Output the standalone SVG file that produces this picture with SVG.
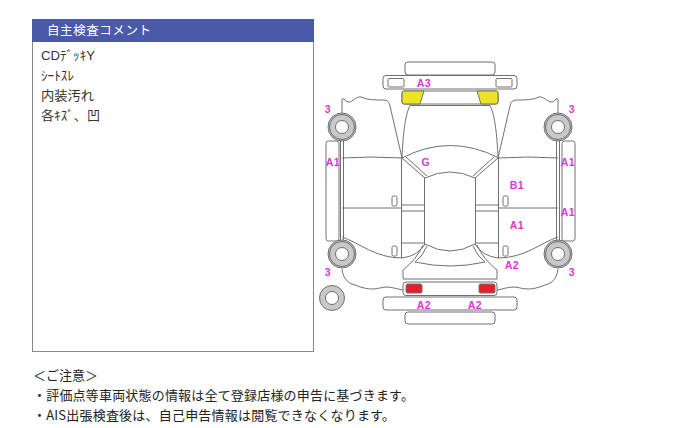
<svg xmlns="http://www.w3.org/2000/svg" width="678" height="428" viewBox="0 0 678 428">
<style>
text{font-family:"Noto Sans CJK JP","Liberation Sans",sans-serif;fill:#333}
.l{fill:none;stroke:#707070;stroke-width:1}
.p{fill:#fff;stroke:#707070;stroke-width:1}
.m{font-family:"Liberation Sans",sans-serif;font-size:10.5px;font-weight:bold;fill:#d838d8;text-anchor:middle;letter-spacing:.6px}
.w{fill:#c8c8c8;stroke:#707070;stroke-width:1}
.h{fill:#fff;stroke:#707070;stroke-width:1}
.c{font-family:"Liberation Sans","Noto Sans CJK JP",sans-serif;font-size:13px}
.n{font-size:13px;fill:#222}
</style>
<defs>
<g id="wheel"><circle class="w" r="14"/><circle class="l" r="12.5"/><circle class="h" r="6.500"/></g>
</defs>
<g id="comment-box">
<rect x="32.500" y="19.500" width="281" height="332" fill="#fff" stroke="#888"/>
<rect x="32" y="19" width="282" height="23" fill="#4a5aa8"/>
<text x="47" y="35" font-size="12.5" style="fill:#fff" textLength="104">自主検査コメント</text>
<text class="c" x="41" y="60" textLength="54" lengthAdjust="spacingAndGlyphs">CDﾃﾞｯｷY</text>
<text class="c" x="41" y="80" textLength="33" lengthAdjust="spacingAndGlyphs">ｼｰﾄｽﾚ</text>
<text class="c" x="41" y="100" textLength="53" lengthAdjust="spacingAndGlyphs">内装汚れ</text>
<text class="c" x="41" y="120" textLength="59" lengthAdjust="spacingAndGlyphs">各ｷｽﾞ、凹</text>
</g>
<g id="car">
<g id="front-bumper">
<rect class="p" x="405" y="62" width="90" height="13" rx="3"/>
<rect class="p" x="383" y="75.500" width="134" height="13.500" rx="3"/>
<rect class="p" x="388" y="78.500" width="16" height="8.500" rx="1"/>
<rect class="p" x="496" y="78.500" width="16" height="8.500" rx="1"/>
</g>
<g id="windscreen-washer">
<rect class="p" x="402" y="91" width="96" height="13" rx="2"/>
<path d="M403.500 91H424L420 104H404Q402 104 402 102V93Q402 91 403.500 91Z" fill="#ece325" stroke="#707070"/>
<path d="M496.500 91H477L481 104H496Q498 104 498 102V93Q498 91 496.500 91Z" fill="#ece325" stroke="#707070"/>
</g>
<g id="body-lines">
<path class="l" d="M410 105.500H490M410 105.500C405 115 403 135 402 158M490 105.500C495 115 497 135 498 158"/>
<path class="l" d="M342 113V100Q342 98 344 99Q347 103 350 102C354 100 358 96 361 97C367 100 375 100 384 100Q389 100 390 106L402 158"/>
<path class="l" d="M558 113V100Q558 98 556 99Q553 103 550 102C546 100 542 96 539 97C533 100 525 100 516 100Q511 100 510 106L498 158"/>
<path class="l" d="M402 158Q450 133 499 158M425 178Q450 166 475 178"/>
<path class="l" d="M402 158L425 178M406 157L427 176M498 158L475 178M494 157L473 176"/>
<path class="l" d="M401.500 158V258M498.500 158V258M424.500 178V245M475.500 178V245"/>
<path class="l" d="M342 158Q370 156 402 158M558 158Q530 156 498 158M342 208H402M558 208H498"/>
<path class="l" d="M402 205H424M402 211H424M402 243H424M476 205H498M476 211H498M476 243H498"/>
<path class="l" d="M342 237C360 243 375 258 402 258Q418 256 425 244M558 237C540 243 525 258 498 258Q482 256 475 244"/>
<path class="l" d="M425 244Q450 258 475 244"/>
<path class="l" d="M423 245Q417 259 403 270V279H497V270Q483 259 477 245"/>
<path class="l" d="M427 246Q423 256 415 262Q450 270 485 262Q477 256 473 246"/>
<path class="l" d="M342 269C343 280 350 284 355 285C362 288 368 289 372 289C378 289 382 287 386 287C392 287 397 289 403 290M558 269C557 280 550 284 545 285C538 288 532 289 528 289C522 289 518 287 514 287C508 287 503 289 497 290"/>
<path class="l" d="M340.500 141V240M343.500 141V240M556.500 141V240M559.500 141V240"/>
</g>
<g id="sills">
<rect class="p" x="326" y="141" width="13" height="100" rx="2.500"/>
<rect class="p" x="562" y="141" width="13" height="100" rx="2.500"/>
</g>
<g id="door-handles">
<rect class="p" x="392" y="196" width="5" height="10" rx="1.500"/>
<rect class="p" x="392" y="246" width="5" height="10" rx="1.500"/>
<rect class="p" x="503" y="196" width="5" height="10" rx="1.500"/>
<rect class="p" x="503" y="246" width="5" height="10" rx="1.500"/>
</g>
<g id="wheels">
<use href="#wheel" x="342" y="127"/>
<use href="#wheel" x="558" y="127"/>
<use href="#wheel" x="342" y="254"/>
<use href="#wheel" x="558" y="254"/>
<circle class="w" cx="332" cy="298" r="12.500"/>
<circle class="h" cx="332" cy="298" r="6.500"/>
</g>
<g id="rear">
<rect class="p" x="403" y="282" width="94" height="13.500" rx="3"/>
<rect x="406" y="284" width="16" height="9" rx="1.500" fill="#e2202c" stroke="#707070"/>
<rect x="479" y="284" width="16" height="9" rx="1.500" fill="#e2202c" stroke="#707070"/>
<rect class="p" x="383" y="297" width="134" height="13" rx="3"/>
<rect class="p" x="405" y="312" width="90" height="12" rx="3"/>
</g>
</g>
<g id="labels">
<text class="m" x="424" y="87">A3</text>
<text class="m" x="328" y="113">3</text>
<text class="m" x="572" y="113">3</text>
<text class="m" x="333" y="166">A1</text>
<text class="m" x="568" y="166">A1</text>
<text class="m" x="426" y="166">G</text>
<text class="m" x="517" y="189">B1</text>
<text class="m" x="568" y="216">A1</text>
<text class="m" x="517" y="229">A1</text>
<text class="m" x="512" y="269">A2</text>
<text class="m" x="328" y="276">3</text>
<text class="m" x="572" y="276">3</text>
<text class="m" x="424" y="309">A2</text>
<text class="m" x="475" y="309">A2</text>
</g>
<g id="notes">
<text class="n" x="33" y="380" textLength="65">＜ご注意＞</text>
<text class="n" x="33" y="400" textLength="381">・評価点等車両状態の情報は全て登録店様の申告に基づきます。</text>
<text class="n" x="33" y="420" textLength="362">・AIS出張検査後は、自己申告情報は閲覧できなくなります。</text>
</g>
</svg>
